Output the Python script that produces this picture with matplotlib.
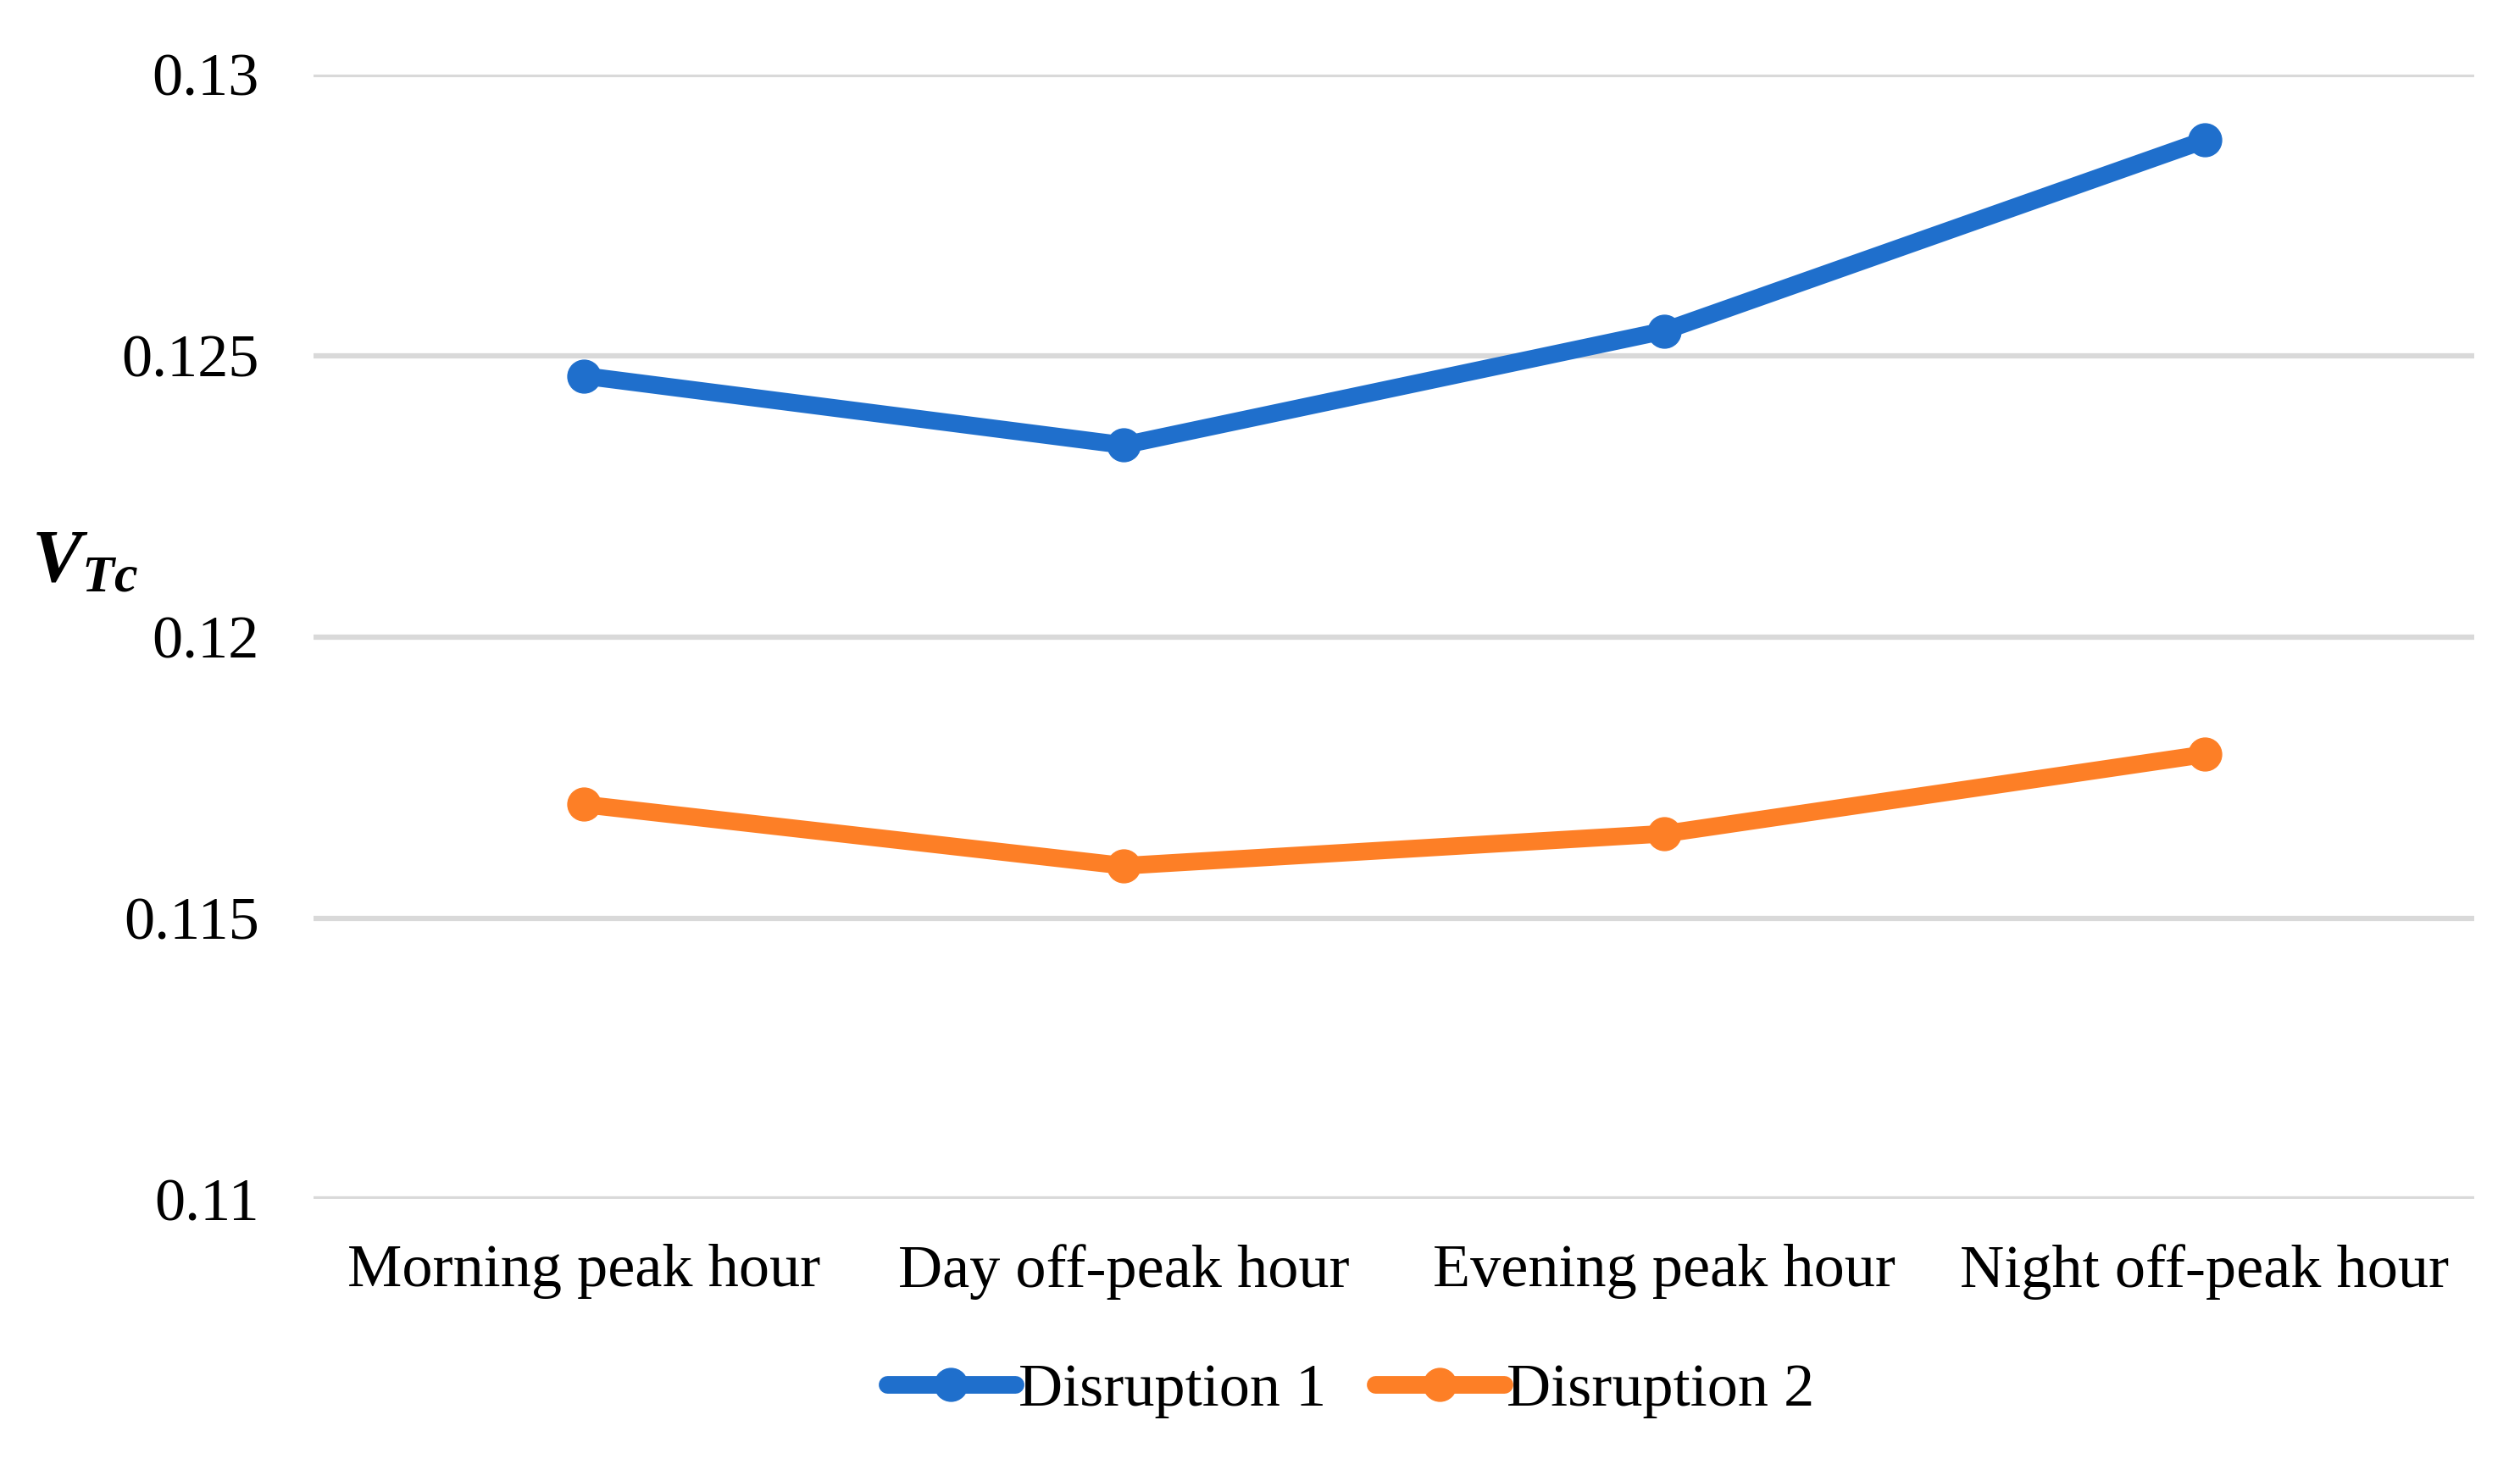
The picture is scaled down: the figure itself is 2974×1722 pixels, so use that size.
import matplotlib.pyplot as plt

plt.rcParams["font.family"] = ["Liberation Serif", "DejaVu Serif"]
plt.rcParams["mathtext.fontset"] = "custom"
plt.rcParams["mathtext.it"] = "Liberation Serif:italic:bold"
plt.rcParams["mathtext.rm"] = "Liberation Serif:bold"

periods = ["Morning peak hour", "Day off-peak hour", "Evening peak hour", "Night off-peak hour"]
disruption_1 = [0.12464, 0.12341, 0.12544, 0.12883]
disruption_2 = [0.11702, 0.11593, 0.11650, 0.11791]
y_ticks = [0.11, 0.115, 0.12, 0.125, 0.13]
y_tick_labels = ["0.11", "0.115", "0.12", "0.125", "0.13"]

fig = plt.figure(figsize=(29.74, 17.22), dpi=100)
ax = fig.add_axes([0.1244, 0.178, 0.8576, 0.771])

x = range(len(periods))
ax.plot(x, disruption_1, color="#1f6fcc", lw=15, marker="o", ms=28,
        solid_capstyle="round", label="Disruption 1", zorder=3)
ax.plot(x, disruption_2, color="#fd7f26", lw=15, marker="o", ms=28,
        solid_capstyle="round", label="Disruption 2", zorder=3)

ax.set_xlim(-0.5, 3.5)
ax.set_ylim(0.11, 0.13)
ax.set_yticks(y_ticks)
ax.set_yticklabels(y_tick_labels)
ax.set_xticks(list(x))
ax.set_xticklabels(periods)
ax.tick_params(axis="both", length=0, labelsize=52)
ax.tick_params(axis="y", pad=46)
ax.tick_params(axis="x", pad=38)
ax.grid(axis="y", color="#d9d9d9", lw=4.5)
ax.set_axisbelow(True)
for s in ax.spines.values():
    s.set_visible(False)

ax.set_ylabel(r"$V_{Tc}$", rotation=0, fontsize=64)
ax.yaxis.set_label_coords(-0.106, 0.535)

fig.legend(loc="center", bbox_to_anchor=(0.536, 0.047), ncol=2, frameon=False,
           fontsize=52, handlelength=2.1, handletextpad=0.05, columnspacing=0.8)

plt.savefig("out.png", dpi=100)
